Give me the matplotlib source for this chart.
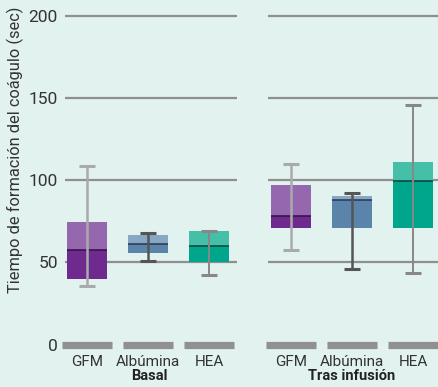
import matplotlib.pyplot as plt
import numpy as np

plt.rcParams['font.family'] = ['Roboto', 'DejaVu Sans']

groups = ['Basal', 'Tras infusión']
fluids = ['GFM', 'Albúmina', 'HEA']

# box stats per group: [GFM, Albúmina, HEA]
q1 = {'Basal': [40, 55.7, 50.2], 'Tras infusión': [71, 71, 71]}
med = {'Basal': [57.5, 61.4, 60.2], 'Tras infusión': [78.2, 88.2, 99.4]}
q3 = {'Basal': [74.4, 66.5, 68.9], 'Tras infusión': [97, 90.2, 111]}
wlo = {'Basal': [35.8, 51, 42.5], 'Tras infusión': [57.7, 46.1, 43.5]}
whi = {'Basal': [109, 67.7, 69.3], 'Tras infusión': [109.8, 92.5, 145.7]}

light = ['#9467ae', '#87a7c4', '#46bfa9']
dark = ['#6f2a8e', '#5a84aa', '#00a68c']
med_col = ['#3a1450', '#2d3f55', '#0d4a40']
wcol = ['#aaaaaa', '#555555', '#888888']
bg = '#e2f2ef'
grid_col = '#8f8f8f'
txt = '#333333'

fig = plt.figure(figsize=(4.38, 3.87), dpi=100)
fig.patch.set_facecolor(bg)

yb = 0.0886
yh = 0.891
axes = [fig.add_axes([62 / 438, yb, 175 / 438, yh]),
        fig.add_axes([266 / 438, yb, 172 / 438, yh])]
xlims = [(-0.41, 2.46), (-0.41, 2.41)]
gstart = [-0.36, -0.38]

bw = 0.67
x = np.arange(3)
for k, (ax, g) in enumerate(zip(axes, groups)):
    ax.set_facecolor(bg)
    ax.set_xlim(*xlims[k])
    ax.set_ylim(-5, 205)
    for s in ax.spines.values():
        s.set_visible(False)
    ax.hlines([50, 100, 150, 200], gstart[k], xlims[k][1], color=grid_col,
              lw=1.6, zorder=1)
    # gray base bars at 0
    ax.hlines([0] * 3, x - 0.41, x + 0.41, color='#909090', lw=5.2,
              capstyle='butt', zorder=2)
    for i in range(3):
        ax.bar(x[i], med[g][i] - q1[g][i], bottom=q1[g][i], width=bw,
               color=dark[i], zorder=3)
        ax.bar(x[i], q3[g][i] - med[g][i], bottom=med[g][i], width=bw,
               color=light[i], zorder=3)
        ax.hlines(med[g][i], x[i] - bw / 2, x[i] + bw / 2, color=med_col[i],
                  lw=1.2, zorder=4)
        lw = 1.4 if i == 2 else 1.8
        ax.vlines(x[i], wlo[g][i], whi[g][i], color=wcol[i], lw=lw, zorder=5)
        ax.hlines([wlo[g][i], whi[g][i]], x[i] - 0.13, x[i] + 0.13,
                  color=wcol[i], lw=2.2, zorder=5)
    ax.set_xticks(x)
    ax.set_xticklabels(fluids, fontsize=11, color=txt)
    ax.set_xlabel(g, fontsize=10.5, color='#222222', fontweight='bold',
                  labelpad=0)
    ax.tick_params(axis='x', length=0, pad=1.5)
    if k == 0:
        ax.set_yticks([0, 50, 100, 150, 200])
        ax.tick_params(axis='y', length=0, labelsize=12.5, labelcolor=txt,
                       pad=3)
        ax.set_ylabel('Tiempo de formación del coágulo (sec)', fontsize=11.8,
                      color=txt)
        ax.yaxis.set_label_coords(-0.22, 0.588)
    else:
        ax.set_yticks([])

fig.savefig('out.png', dpi=100, facecolor=bg)
